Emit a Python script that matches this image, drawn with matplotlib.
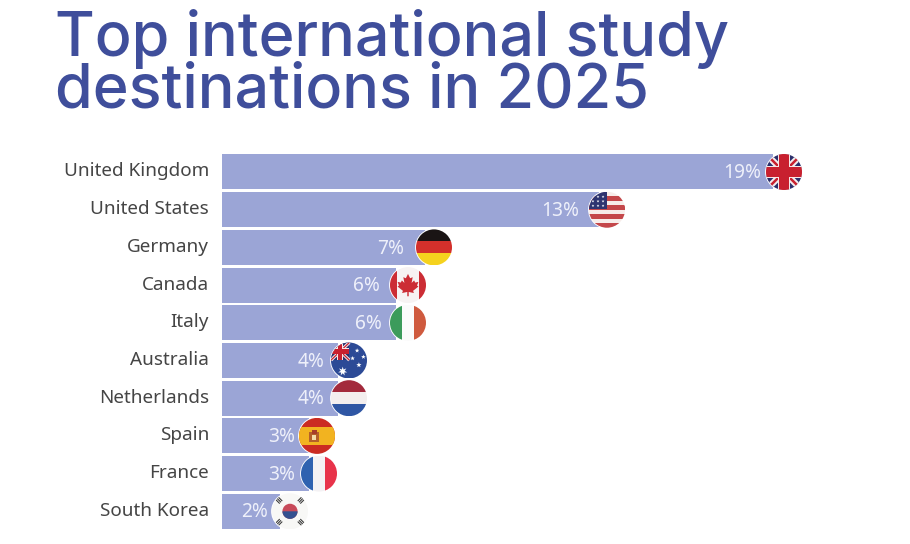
import matplotlib
matplotlib.use("Agg")
import matplotlib.pyplot as plt
from matplotlib.patches import Circle, Rectangle, Polygon
from matplotlib.transforms import Affine2D, ScaledTranslation
import numpy as np

countries = ["United Kingdom", "United States", "Germany", "Canada", "Italy",
             "Australia", "Netherlands", "Spain", "France", "South Korea"]
shares = [19, 13, 7, 6, 6, 4, 4, 3, 3, 2]
title_text = "Top international study\ndestinations in 2025"

BAR = "#9BA5D6"
TITLE = "#3F4E9B"
W, H = 910, 544
PX_PER_UNIT = 29.0
FLAG_R = 18
LEFT, TOP, PITCH = 222, 172, 37.7
flag_shift = [11, 8, 9, 12, 12, 11, 11, 8, 10, 10]
label_gap = [23, 28, 30, 28, 26, 24, 24, 22, 24, 22]


def rect(x0, y0, x1, y1, c):
    return Rectangle((x0, y0), x1 - x0, y1 - y0, facecolor=c, edgecolor="none")


def poly(pts, c):
    return Polygon(pts, closed=True, facecolor=c, edgecolor="none")


def star(cx, cy, r, c, n=5):
    a = np.pi / 2 + np.arange(2 * n) * np.pi / n
    rr = np.where(np.arange(2 * n) % 2 == 0, r, r * 0.42)
    return poly(np.c_[cx + rr * np.cos(a), cy + rr * np.sin(a)], c)


def jack(x0, y0, x1, y1):
    cx, cy = (x0 + x1) / 2, (y0 + y1) / 2
    h = y1 - y0
    out = [rect(x0, y0, x1, y1, "#2B2F6B")]
    for (a, b, c, d) in [(x0, y0, x1, y1), (x0, y1, x1, y0)]:
        dx, dy = c - a, d - b
        m = np.hypot(dx, dy)
        for half, col in [(0.09 * h, "#F3EDEE"), (0.035 * h, "#C8202F")]:
            ox, oy = -dy / m * half, dx / m * half
            out.append(poly([(a + ox, b + oy), (c + ox, d + oy), (c - ox, d - oy), (a - ox, b - oy)], col))
    out.append(rect(cx - .18 * h, y0, cx + .18 * h, y1, "#F6E6E6"))
    out.append(rect(x0, cy - .18 * h, x1, cy + .18 * h, "#F6E6E6"))
    out.append(rect(cx - .13 * h, y0, cx + .13 * h, y1, "#C8202F"))
    out.append(rect(x0, cy - .13 * h, x1, cy + .13 * h, "#C8202F"))
    return out


def uk():
    return jack(-1, -1, 1, 1)


def us():
    out = [rect(-1, -1, 1, 1, "#F7EDEA")]
    for k in range(4):
        y = -1 + k * 0.5
        out.append(rect(-1, y, 1, y + 0.25, "#C4474A"))
    out.append(rect(-1, 0.0, 1, 0.22, "#C4474A"))
    out.append(rect(-1, 0.02, -0.02, 1, "#2E3470"))
    for r in range(3):
        for q in range(3):
            out.append(star(-0.78 + q * 0.28, 0.22 + r * 0.25, 0.08, "#FFFFFF"))
    return out


def de():
    return [rect(-1, 0.33, 1, 1, "#1A1414"), rect(-1, -0.33, 1, 0.33, "#D3302B"),
            rect(-1, -1, 1, -0.33, "#F5D21E")]


def ca():
    leaf = np.array([(0, .62), (.12, .38), (.26, .44), (.2, .12), (.34, .26), (.4, .14), (.58, .18),
                     (.5, -.02), (.58, -.08), (.28, -.32), (.33, -.44), (.04, -.38), (.04, -.62),
                     (-.04, -.62), (-.04, -.38), (-.33, -.44), (-.28, -.32), (-.58, -.08), (-.5, -.02),
                     (-.58, .18), (-.4, .14), (-.34, .26), (-.2, .12), (-.26, .44), (-.12, .38)])
    return [rect(-1, -1, 1, 1, "#F7F3F3"), rect(-1, -1, -.62, 1, "#CC2D35"),
            rect(.62, -1, 1, 1, "#CC2D35"), poly(leaf, "#CC2D35")]


def it():
    return [rect(-1, -1, -.33, 1, "#3C9B5B"), rect(-.33, -1, .33, 1, "#FBFBFB"),
            rect(.33, -1, 1, 1, "#CF5A3E")]


def au():
    out = [rect(-1, -1, 1, 1, "#2C4A96")]
    out += jack(-1, 0.02, 0.02, 1)
    for x, y, r in [(-.35, -.6, .26), (.45, .55, .13), (.8, .2, .13), (.2, .12, .13), (.55, -.25, .15)]:
        out.append(star(x, y, r, "#FFFFFF", 7 if r > .2 else 5))
    return out


def nl():
    return [rect(-1, .33, 1, 1, "#A32A3C"), rect(-1, -.33, 1, .33, "#F3EEEE"),
            rect(-1, -1, 1, -.33, "#2F56A4")]


def es():
    return [rect(-1, -1, 1, 1, "#CB2B22"), rect(-1, -.5, 1, .5, "#F2B320"),
            rect(-.42, -.32, .1, .22, "#B5602A"), rect(-.3, .1, -.02, .3, "#A83D2A"),
            rect(-.3, -.2, -.06, .05, "#F5DDAA")]


def fr():
    return [rect(-1, -1, -.33, 1, "#2F62B0"), rect(-.33, -1, .33, 1, "#F4F2F4"),
            rect(.33, -1, 1, 1, "#E8334A")]


def kr():
    out = [rect(-1, -1, 1, 1, "#F8F8F6"), Circle((0, 0), .42, facecolor="#C84A5A", edgecolor="none"),
           poly(np.c_[.42 * np.cos(np.linspace(np.pi, 2 * np.pi, 30)),
                      .42 * np.sin(np.linspace(np.pi, 2 * np.pi, 30))], "#34508F")]
    for sx, sy in [(-1, 1), (1, 1), (-1, -1), (1, -1)]:
        m = Affine2D().rotate_deg(45 * sx * sy)
        for o in (-.1, 0, .1):
            p = m.transform(np.array([[-.17, o - .03], [.17, o - .03], [.17, o + .03], [-.17, o + .03]]))
            out.append(poly(p + [sx * .62, sy * .62], "#3A3A3A"))
    return out


flag_makers = [uk, us, de, ca, it, au, nl, es, fr, kr]

plt.rcParams["font.family"] = ["Noto Sans", "DejaVu Sans"]
fig = plt.figure(figsize=(W / 100, H / 100), dpi=100)
n = len(countries)
top_px = TOP - PITCH / 2
bot_px = top_px + PITCH * n
ax = fig.add_axes([LEFT / W, 1 - bot_px / H, (W - LEFT) / W, (bot_px - top_px) / H])
rows = np.arange(n)
ax.barh(rows, shares, height=35 / PITCH, color=BAR, edgecolor="none")
ax.set_xlim(0, (W - LEFT) / PX_PER_UNIT)
ax.set_ylim(n - 0.5, -0.5)
ax.set_yticks(rows, countries, fontsize=13.6, color="#454545")
ax.set_xticks([])
ax.tick_params(axis="y", length=0, pad=9.4)
lift = ScaledTranslation(0, 2.5 / 72 * 0.72, fig.dpi_scale_trans)
for lab in ax.get_yticklabels():
    lab.set_transform(lab.get_transform() + lift)
for s in ax.spines.values():
    s.set_visible(False)

for i, (v, make) in enumerate(zip(shares, flag_makers)):
    cx, cy = ax.transData.transform((v, i))
    cx += flag_shift[i]
    tr = Affine2D().scale(FLAG_R).translate(cx, cy)
    halo = Circle((0, 0), 1.05, facecolor="#FFFFFF", edgecolor="none", transform=tr, zorder=3, clip_on=False)
    fig.add_artist(halo)
    clip = Circle((0, 0), 1, transform=tr)
    for k, art in enumerate(make()):
        art.set_transform(tr)
        art.set_zorder(4 + k * 0.01)
        fig.add_artist(art)
        art.set_clip_path(clip)
    ax.annotate(f"{v}%", (v, i), xytext=((flag_shift[i] - label_gap[i]) * 0.72, -0.8), textcoords="offset points",
                ha="right", va="center", color="#EEF0FA", fontsize=13.8, annotation_clip=False)

fig.text(55 / W, 1 - 9 / H, title_text, family="Inter", fontsize=44, color=TITLE, ha="left", va="top",
         linespacing=0.85, fontweight="medium")
fig.savefig("out.png", dpi=100, facecolor="white")
